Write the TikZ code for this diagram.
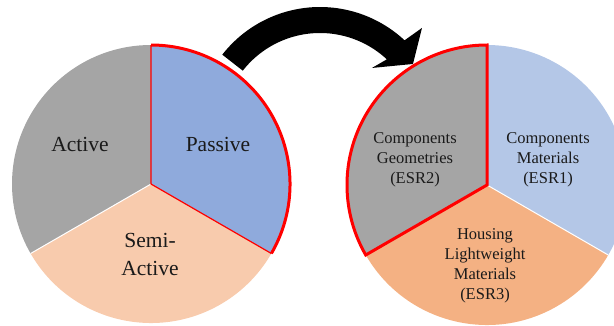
\documentclass[tikz,border=0pt]{standalone}
\usepackage{fontspec}
\setmainfont{Liberation Serif}
\definecolor{pgray}{HTML}{A5A5A5}
\definecolor{pblue}{HTML}{8FAADC}
\definecolor{ppeach}{HTML}{F8CBAD}
\definecolor{plblue}{HTML}{B4C7E7}
\definecolor{porange}{HTML}{F4B183}
\definecolor{txt}{HTML}{1A1A1A}
\definecolor{pred}{HTML}{FF0000}
\begin{document}
\begin{tikzpicture}[x=1pt,y=1pt,
  biglabel/.style={text=txt,font=\fontsize{21.5}{28}\selectfont,align=center,inner sep=0pt},
  smalllabel/.style={text=txt,font=\fontsize{16.5}{20}\selectfont,align=center,inner sep=0pt},
  sep/.style={draw=white,line width=1pt},
  redthin/.style={draw=pred,line width=1.2pt},
  redthick/.style={draw=pred,line width=3pt,line join=miter}]
\useasboundingbox (0,0) rectangle (614,325);
\clip (0,0) rectangle (614,325);
% left pie
\begin{scope}[shift={(151,141)}]
  \coordinate (lc) at (0,0);
  \fill[pgray] (lc) -- (90:139) arc[start angle=90,end angle=210,radius=139] -- cycle;
  \fill[ppeach] (lc) -- (210:139) arc[start angle=210,end angle=330,radius=139] -- cycle;
  \fill[pblue] (lc) -- (-30:139) arc[start angle=-30,end angle=90,radius=139] -- cycle;
  \draw[sep] (lc) -- (210:139);
  \draw[redthin] (90:139) -- (lc) -- (-30:139);
  \draw[redthick] (-30:139) arc[start angle=-30,end angle=90,radius=139];
\end{scope}
% right pie
\begin{scope}[shift={(487,140)}]
  \coordinate (rc) at (0,0);
  \fill[plblue] (rc) -- (-30:140) arc[start angle=-30,end angle=90,radius=140] -- cycle;
  \fill[porange] (rc) -- (210:140) arc[start angle=210,end angle=330,radius=140] -- cycle;
  \draw[sep] (rc) -- (-30:140);
  \filldraw[fill=pgray,redthick] (rc) -- (90:140) arc[start angle=90,end angle=210,radius=140] -- cycle;
\end{scope}
% curved arrow
\begin{scope}[shift={(320,194)}]
  \fill[black] (142:124) arc[start angle=142,end angle=47,radius=124]
    -- (45.3:145) -- (35.8:114.6) -- (50.5:81.7) -- (47:98)
    arc[start angle=47,end angle=142,radius=98] -- cycle;
\end{scope}
% labels
\node[biglabel] (active) at (80,181) {Active};
\node[biglabel] (passive) at (218,181) {Passive};
\node[biglabel] (semi) at (150,71) {Semi-\\Active};
\node[smalllabel] (geom) at (415,165) {Components\\Geometries\\(ESR2)};
\node[smalllabel] (mat) at (548,165) {Components\\Materials\\(ESR1)};
\node[smalllabel] (housing) at (485,59) {Housing\\Lightweight\\Materials\\(ESR3)};
\end{tikzpicture}
\end{document}
